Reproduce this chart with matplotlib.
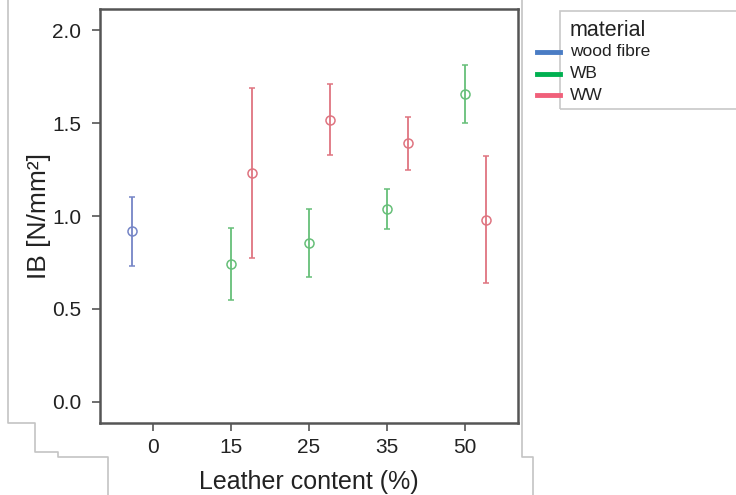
import matplotlib.pyplot as plt
from matplotlib.lines import Line2D
from matplotlib.patches import Rectangle

plt.rcParams['font.family'] = ['Liberation Sans', 'DejaVu Sans']

categories = ['0', '15', '25', '35', '50']
materials = ['wood fibre', 'WB', 'WW']
legend_colors = ['#4a7cc4', '#00b050', '#f0607a']
point_colors = ['#7585c6', '#66bf78', '#df7480']

wood_cat = ['0']
wood_mean = [0.92]
wood_low = [0.73]
wood_high = [1.10]

wb_cat = ['15', '25', '35', '50']
wb_mean = [0.74, 0.855, 1.04, 1.655]
wb_low = [0.55, 0.67, 0.93, 1.50]
wb_high = [0.935, 1.04, 1.145, 1.81]

ww_cat = ['15', '25', '35', '50']
ww_mean = [1.23, 1.515, 1.39, 0.98]
ww_low = [0.775, 1.33, 1.25, 0.64]
ww_high = [1.69, 1.71, 1.53, 1.32]

series = [
    (wood_cat, wood_mean, wood_low, wood_high),
    (wb_cat, wb_mean, wb_low, wb_high),
    (ww_cat, ww_mean, ww_low, ww_high),
]
offsets = [-0.27, 0.0, 0.27]

W, H = 736, 495
fig = plt.figure(figsize=(W / 100, H / 100), dpi=100)
ax = fig.add_axes([100 / W, 1 - 423 / H, 418 / W, 414 / H])

for (cats, mean, low, high), off, col in zip(series, offsets, point_colors):
    x = [categories.index(c) + off for c in cats]
    yerr = [[m - l for m, l in zip(mean, low)], [h - m for m, h in zip(mean, high)]]
    ax.errorbar(x, mean, yerr=yerr, fmt='o', mfc='none', mec=col, ms=6.5,
                mew=1.1, ecolor=col, elinewidth=1.3, capsize=2, capthick=1.3)

ax.set_xticks(range(len(categories)))
ax.set_xticklabels(categories)
ax.set_xlim(-0.68, 4.68)
ax.set_ylim(-0.113, 2.113)
ax.set_yticks([0.0, 0.5, 1.0, 1.5, 2.0])
ax.set_yticklabels(['0.0', '0.5', '1.0', '1.5', '2.0'])
ax.tick_params(labelsize=15, length=6, width=1.2, color='#555555', labelcolor='#222222')
ax.tick_params(axis='x', pad=5)
ax.tick_params(axis='y', pad=7.5)
for s in ax.spines.values():
    s.set_color('#555555')
    s.set_linewidth(1.8)
ax.set_xlabel('Leather content (%)', fontsize=18, color='#222222', labelpad=9)
ax.set_ylabel('IB [N/mm²]', fontsize=19, color='#222222', labelpad=1)


def px(x, y):
    return x / W, 1 - y / H


# legend
x0, y0 = px(560, 11)
x1, y1 = px(745, 109)
fig.add_artist(Rectangle((x0, y1), x1 - x0, y0 - y1, transform=fig.transFigure,
                         fill=False, ec='#c8c8c8', lw=1.2))
fig.text(*px(570, 31), 'material', fontsize=15.5, va='center', color='#222222')
for i, (name, col) in enumerate(zip(materials, legend_colors)):
    yy = [52, 74, 95][i]
    xa, ya = px(537, yy)
    xb, _ = px(560, yy)
    fig.add_artist(Line2D([xa, xb], [ya, ya], transform=fig.transFigure, color=col, lw=3.5))
    fig.text(*px(570, yy), name, fontsize=12.5, va='center', color='#222222')

# screenshot edge lines
edge = '#c4c4c4'
left_path = [(8, 0), (8, 423), (35, 423), (35, 452), (58, 452), (58, 457), (108, 457), (108, 495)]
right_path = [(522, 0), (522, 457), (533, 457), (533, 495)]
for path in (left_path, right_path):
    pts = [px(a, b) for a, b in path]
    fig.add_artist(Line2D([p[0] for p in pts], [p[1] for p in pts],
                          transform=fig.transFigure, color=edge, lw=1.2))

fig.savefig('out.png', dpi=100)
